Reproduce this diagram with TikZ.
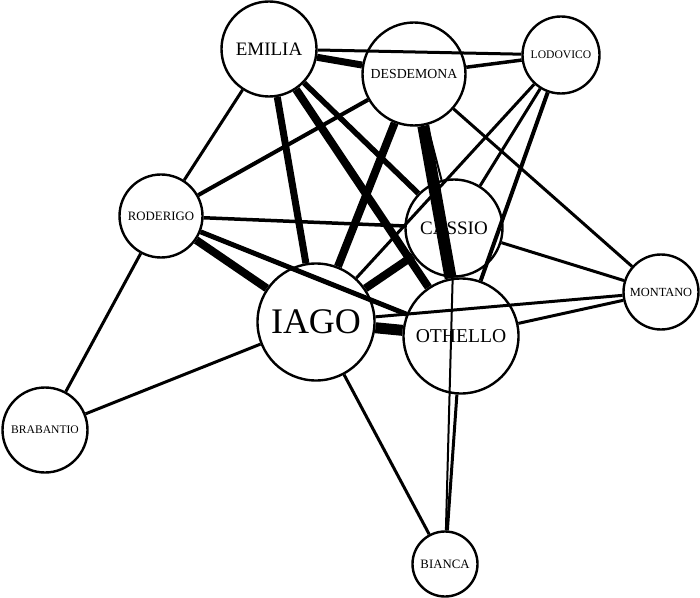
\documentclass[tikz,border=0pt]{standalone}
\usepackage{fontspec}
\setmainfont{Liberation Serif}
\usepackage{tikz}

\begin{document}
\begin{tikzpicture}[
  x=0.5pt, y=-0.5pt,
  every node/.style={draw, circle, inner sep=0pt, line width=1.2pt},
  role/.style={minimum size=#1*0.5pt, font=\fontsize{6}{6}\selectfont},
  lead/.style={minimum size=#1*0.5pt, font=\fontsize{9.5}{9.5}\selectfont},
  tie/.style={line width=#1*0.5pt},
  tie/.default=3
]
\useasboundingbox (0,0) rectangle (700,598);

\node[lead=95] (emilia) at (269,49) {EMILIA};
\node[role=103, font=\fontsize{6.9}{6.9}\selectfont] (desdemona) at (414,74) {DESDEMONA};
\node[role=77, font=\fontsize{5.8}{5.8}\selectfont] (lodovico) at (561,55) {LODOVICO};
\node[role=83, font=\fontsize{6.4}{6.4}\selectfont] (roderigo) at (161,216) {RODERIGO};
\node[lead=97] (cassio) at (454,228) {CASSIO};
\node[lead=117, font=\fontsize{18}{18}\selectfont] (iago) at (316,322) {IAGO};
\node[lead=115, font=\fontsize{9.8}{9.8}\selectfont] (othello) at (461,336) {OTHELLO};
\node[role=75, font=\fontsize{6.2}{6.2}\selectfont] (montano) at (661,292) {MONTANO};
\node[role=85, font=\fontsize{5.8}{5.8}\selectfont] (brabantio) at (45,430) {BRABANTIO};
\node[role=65, font=\fontsize{6.4}{6.4}\selectfont] (bianca) at (445,564) {BIANCA};

% emilia
\draw[tie] (emilia) -- (lodovico);
\draw[tie=7] (emilia) -- (desdemona);
\draw[tie] (emilia) -- (roderigo);
\draw[tie=7] (emilia) -- (iago);
\draw[tie=8] (emilia) -- (othello);
\draw[tie=5.5] (emilia) -- (cassio);

% desdemona
\draw[tie=3.5] (desdemona) -- (lodovico);
\draw[tie=4] (desdemona) -- (roderigo);
\draw[tie=8] (desdemona) -- (iago);
\draw[tie=12] (desdemona) -- (othello);
\draw[tie=2] (desdemona) -- (cassio);
\draw[tie] (desdemona) -- (montano);

% lodovico
\draw[tie] (lodovico) -- (iago);
\draw[tie] (lodovico) -- (cassio);
\draw[tie=4] (lodovico) -- (othello);

% roderigo
\draw[tie=3.5] (roderigo) -- (cassio);
\draw[tie=8] (roderigo) -- (iago);
\draw[tie=5] (roderigo) -- (othello);
\draw[tie] (roderigo) -- (brabantio);

% iago
\draw[tie] (iago) -- (brabantio);
\draw[tie=8] (iago) -- (cassio);
\draw[tie=11] (iago) -- (othello);
\draw[tie] (iago) -- (montano);
\draw[tie] (iago) -- (bianca);

% the rest
\draw[tie] (othello) -- (montano);
\draw[tie] (cassio) -- (montano);
\draw[tie] (othello) -- (bianca);
\draw[tie=2] (cassio) -- (bianca);
\end{tikzpicture}
\end{document}
